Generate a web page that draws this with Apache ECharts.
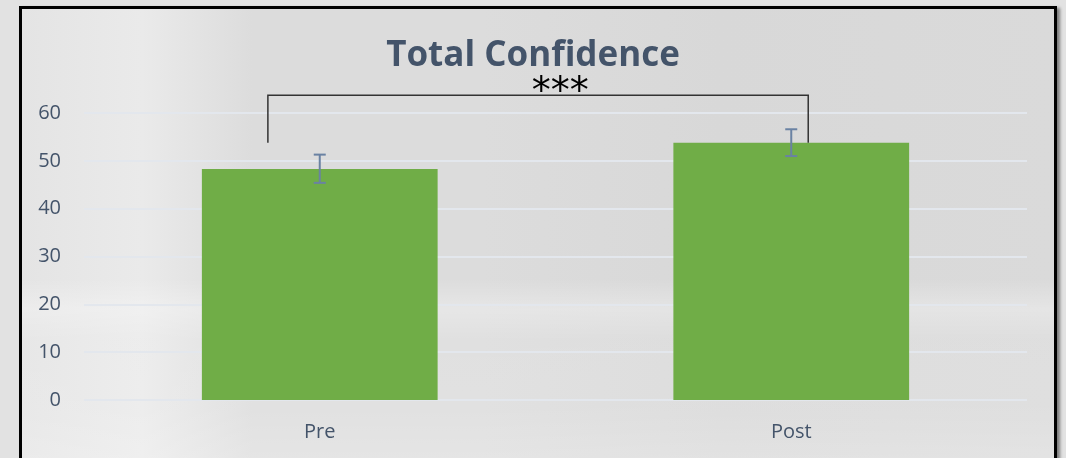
<!DOCTYPE html>
<html>
<head>
<meta charset="utf-8">
<script src="https://cdn.jsdelivr.net/npm/echarts@6/dist/echarts.min.js"></script>
<style>
    html, body { margin: 0; padding: 0; background: #e2e2e2; }
    #wrap { position: relative; width: 1066px; height: 458px; overflow: hidden; }
    #frame {
        position: absolute; left: 19px; top: 6px; width: 1032px; height: 470px;
        border: 3px solid #000;
        box-shadow: 3px 2px 3px rgba(0, 0, 0, 0.45);
        background:
            linear-gradient(180deg, rgba(255,255,255,0) 0px, rgba(255,255,255,0) 270px, rgba(255,255,255,0.3) 300px, rgba(255,255,255,0.12) 330px, rgba(255,255,255,0.15) 400px, rgba(255,255,255,0.3) 470px),
            linear-gradient(90deg, #e4e4e4 0px, #eaeaea 120px, #e2e2e2 185px, #dcdcdc 230px, #dcdcdc 460px, #d8d8d8 700px, #dadada 1032px);
    }
    #echarts { position: absolute; left: 0; top: 0; width: 1066px; height: 458px; }
</style>
</head>
<body>
<div id="wrap">
    <div id="frame"></div>
    <div id="echarts"></div>
</div>
<script>
// data
var categories = ['Pre', 'Post'];
var means = [48.3, 53.8];
var errLow = [45.4, 51.0];
var errHigh = [51.3, 56.6];
var yTicks = [0, 10, 20, 30, 40, 50, 60];

// significance bracket (legs in category units, heights in axis units)
var bracketLegs = [-0.11, 1.036];
var bracketTop = 63.7;
var bracketLegBottom = [53.8, 53.8];
var bracketLabel = '***';
var bracketLabelPos = 0.51;

var chart = echarts.init(document.getElementById('echarts'), null, { renderer: 'canvas' });

var labelColor = '#44546A';
var fontFamily = '"Open Sans", "Noto Sans", sans-serif';

var option = {
    backgroundColor: 'transparent',
    animation: false,
    title: {
        text: 'Total Confidence',
        left: 'center',
        top: 34,
        textStyle: {
            color: labelColor,
            fontSize: 35,
            fontWeight: 'bold',
            fontFamily: fontFamily
        }
    },
    grid: { //图表区域
        left: 84,
        right: 39,
        top: 113,
        bottom: 58
    },
    xAxis: {
        type: 'category',
        data: categories,
        axisLine: { show: false },
        axisTick: { show: false },
        axisLabel: {
            color: labelColor,
            fontSize: 20,
            fontFamily: fontFamily,
            margin: 22
        }
    },
    yAxis: {
        type: 'value',
        min: yTicks[0],
        max: yTicks[yTicks.length - 1],
        interval: 10,
        axisLine: { show: false },
        axisTick: { show: false },
        axisLabel: {
            color: labelColor,
            fontSize: 20,
            fontFamily: fontFamily,
            margin: 23
        },
        splitLine: {
            lineStyle: { color: '#e3e7ed', width: 2 }
        }
    },
    series: [
        {
            name: 'Total Confidence',
            type: 'bar',
            data: means,
            barWidth: '50%',
            itemStyle: { color: '#70AD47' },
            z: 2
        },
        {
            // error bars
            type: 'custom',
            data: categories.map(function (c, i) { return [i, errLow[i], errHigh[i]]; }),
            renderItem: function (params, api) {
                var lo = api.coord([api.value(0), api.value(1)]);
                var hi = api.coord([api.value(0), api.value(2)]);
                var half = 6;
                var style = { stroke: '#6A82A3', lineWidth: 2 };
                return {
                    type: 'group',
                    children: [
                        { type: 'line', shape: { x1: lo[0], y1: lo[1], x2: hi[0], y2: hi[1] }, style: style },
                        { type: 'line', shape: { x1: lo[0] - half, y1: lo[1], x2: lo[0] + half, y2: lo[1] }, style: style },
                        { type: 'line', shape: { x1: hi[0] - half, y1: hi[1], x2: hi[0] + half, y2: hi[1] }, style: style }
                    ]
                };
            },
            z: 3
        },
        {
            // significance bracket
            type: 'custom',
            clip: false,
            data: [[0, bracketTop]],
            renderItem: function (params, api) {
                var band = api.size([1, 0])[0];
                var base = api.coord([0, bracketTop]);
                var xl = base[0] + bracketLegs[0] * band;
                var xr = base[0] + bracketLegs[1] * band;
                var yTop = base[1];
                var yl = api.coord([0, bracketLegBottom[0]])[1];
                var yr = api.coord([0, bracketLegBottom[1]])[1];
                var xMid = base[0] + bracketLabelPos * band;
                return {
                    type: 'group',
                    children: [
                        {
                            type: 'polyline',
                            shape: { points: [[xl, yl], [xl, yTop], [xr, yTop], [xr, yr]] },
                            style: { stroke: '#333', lineWidth: 1.5, fill: null }
                        },
                        {
                            type: 'text',
                            x: xMid,
                            y: yTop + 17,
                            style: {
                                text: bracketLabel,
                                fill: '#000',
                                font: '38px "DejaVu Sans", sans-serif',
                                align: 'center',
                                verticalAlign: 'bottom'
                            }
                        }
                    ]
                };
            },
            z: 4
        }
    ]
};

chart.setOption(option);
</script>
</body>
</html>
